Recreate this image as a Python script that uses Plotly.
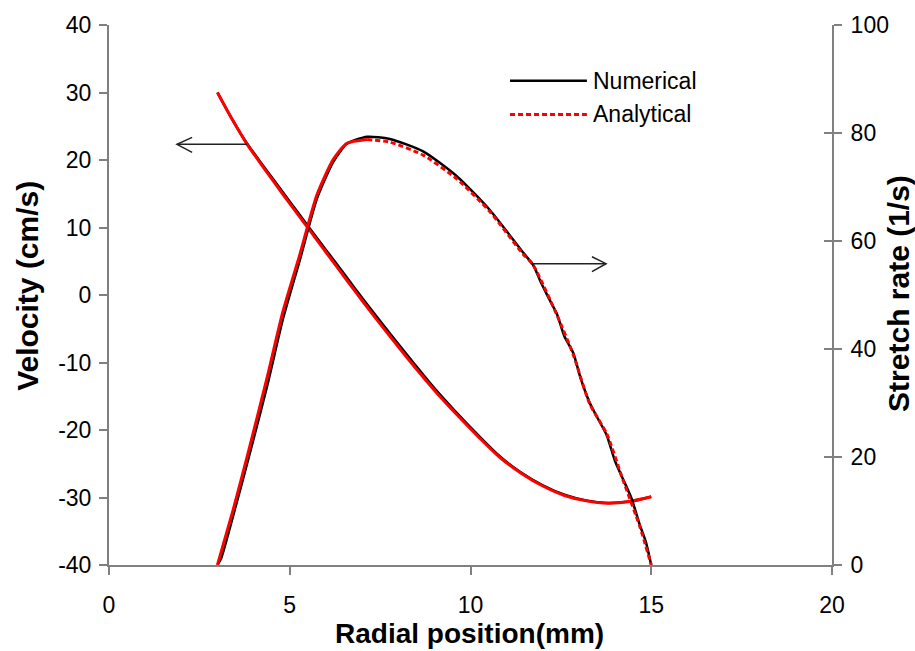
import plotly.graph_objects as go

# Radial velocity (cm/s) vs radial position (mm)
r_vel = [3.0, 3.4, 3.8, 4.3, 4.8, 5.3, 5.8, 6.3, 6.8, 7.3, 7.8, 8.4, 9.0, 9.6,
         10.2, 10.8, 11.4, 12.0, 12.6, 13.2, 13.8, 14.4, 15.0]
vel_analytical = [30.0, 26.1, 22.5, 18.7, 15.0, 11.4, 7.8, 4.2, 0.6, -2.9, -6.3,
                  -10.3, -14.1, -17.6, -20.9, -24.0, -26.4, -28.3, -29.7, -30.5,
                  -30.85, -30.6, -29.9]
vel_numerical = [30.0, 26.1, 22.6, 18.9, 15.3, 11.7, 8.1, 4.6, 1.0, -2.5, -5.9,
                 -9.9, -13.8, -17.35, -20.7, -23.85, -26.3, -28.2, -29.6, -30.45,
                 -30.8, -30.6, -29.9]

# Stretch rate (1/s) vs radial position (mm)
r_str_ana = [3.0, 3.43, 3.9, 4.37, 4.81, 5.28, 5.75, 6.2, 6.58, 7.14, 7.77, 8.69,
             9.62, 10.54, 11.45, 11.73, 12.39, 12.84, 13.3, 13.77, 14.22, 14.69, 15.0]
str_analytical = [0.0, 10.1, 22.1, 34.6, 46.9, 57.5, 68.5, 75.1, 78.1, 78.8, 78.3,
                  75.9, 71.5, 65.4, 57.6, 55.6, 46.3, 39.0, 29.8, 24.3, 15.7, 7.0, 0.0]
peak_index = 9

r_str_num = [3.0, 3.1, 3.43, 3.9, 4.37, 4.81, 5.28, 5.75, 6.2, 6.58, 7.14, 7.77,
             8.69, 9.62, 10.54, 11.45, 11.73, 11.95, 12.15, 12.39, 12.6, 12.84,
             13.05, 13.3, 13.5, 13.77, 14.0, 14.22, 14.45, 14.69, 14.85, 15.0]
str_numerical = [0.0, 1.2, 9.0, 20.8, 33.0, 45.5, 56.5, 67.8, 74.6, 78.0, 79.3,
                 78.9, 76.6, 72.0, 65.7, 57.9, 55.6, 52.3, 49.6, 46.5, 42.3, 39.3,
                 34.5, 30.0, 27.4, 24.0, 19.2, 15.9, 12.4, 7.3, 4.3, 0.0]

x_ticks = [0, 5, 10, 15, 20]
vel_ticks = [-40, -30, -20, -10, 0, 10, 20, 30, 40]
str_ticks = [0, 20, 40, 60, 80, 100]

FONT = "Arial, 'Liberation Sans', sans-serif"
AXIS_GREY = "#808080"

fig = go.Figure()

fig.add_trace(go.Scatter(x=r_vel, y=vel_numerical, mode="lines",
                         line=dict(color="black", width=2.5, shape="spline", smoothing=0.8)))
fig.add_trace(go.Scatter(x=r_str_num, y=str_numerical, mode="lines", yaxis="y2",
                         line=dict(color="black", width=2.5, shape="spline", smoothing=0.6)))

fig.add_trace(go.Scatter(x=r_vel, y=vel_analytical, mode="lines",
                         line=dict(color="#ff0000", width=3, shape="spline", smoothing=0.8)))
fig.add_trace(go.Scatter(x=r_str_ana[:peak_index + 1], y=str_analytical[:peak_index + 1],
                         mode="lines", yaxis="y2",
                         line=dict(color="#ff0000", width=3, shape="spline", smoothing=0.6)))
fig.add_trace(go.Scatter(x=r_str_ana[peak_index:], y=str_analytical[peak_index:],
                         mode="lines", yaxis="y2",
                         line=dict(color="#ff0000", width=3, dash="5px,3px",
                                   shape="spline", smoothing=0.6)))
# carrier for the inner tick marks of the right axis
fig.add_trace(go.Scatter(x=[None], y=[None], yaxis="y3", showlegend=False))

axis_common = dict(showline=True, linecolor=AXIS_GREY, linewidth=2, ticks="outside",
                   ticklen=8, tickwidth=2, tickcolor=AXIS_GREY, showgrid=False,
                   zeroline=False, tickfont=dict(family=FONT, size=23, color="black"))

fig.update_layout(
    width=915, height=651,
    margin=dict(l=109, r=83, t=22, b=86),
    plot_bgcolor="white", paper_bgcolor="white",
    showlegend=False,
    xaxis=dict(range=[0, 20], tickvals=x_ticks, ticktext=[str(v) for v in x_ticks],
               ticklabelstandoff=10, **axis_common),
    yaxis=dict(range=[-40, 40], tickvals=vel_ticks, ticktext=[str(v) for v in vel_ticks],
               ticklabelstandoff=3, **axis_common),
    yaxis2=dict(range=[0, 100], tickvals=str_ticks, ticktext=[str(v) for v in str_ticks],
                overlaying="y", side="right", anchor="x", ticklabelstandoff=4, **axis_common),
    yaxis3=dict(range=[0, 100], tickvals=str_ticks, overlaying="y", side="right",
                anchor="x", showline=False, ticks="inside", ticklen=8, tickwidth=2,
                tickcolor=AXIS_GREY, showticklabels=False, showgrid=False, zeroline=False),
)

# direction arrows pointing to each curve's axis
arrow_line = dict(color="#222222", width=1.5)
shapes = [
    dict(type="line", xref="x", yref="y", x0=3.82, y0=22.32, x1=1.88, y1=22.32, line=arrow_line),
    dict(type="path", xref="x", yref="y", path="M 2.30,23.35 L 1.88,22.32 L 2.30,21.14",
         line=arrow_line),
    dict(type="line", xref="x", yref="y", x0=11.67, y0=4.64, x1=13.75, y1=4.64, line=arrow_line),
    dict(type="path", xref="x", yref="y", path="M 13.36,5.67 L 13.75,4.64 L 13.36,3.46",
         line=arrow_line),
    # legend samples
    dict(type="line", xref="paper", yref="paper", x0=0.5546, x1=0.661, y0=0.8969, y1=0.8969,
         line=dict(color="black", width=2.5)),
    dict(type="line", xref="paper", yref="paper", x0=0.5546, x1=0.661, y0=0.8343, y1=0.8343,
         line=dict(color="#ff0000", width=3, dash="5px,3px")),
]
fig.update_layout(shapes=shapes)

annotations = [
    dict(text="Numerical", xref="paper", yref="paper", x=0.666, y=0.8969,
         xanchor="left", yanchor="middle", showarrow=False,
         font=dict(family=FONT, size=23, color="black")),
    dict(text="Analytical", xref="paper", yref="paper", x=0.666, y=0.8343,
         xanchor="left", yanchor="middle", showarrow=False,
         font=dict(family=FONT, size=23, color="black")),
    dict(text="<b>Velocity (cm/s)</b>", xref="paper", yref="paper", x=-0.112, y=0.517,
         textangle=-90, xanchor="center", yanchor="middle", showarrow=False,
         font=dict(family=FONT, size=30, color="black")),
    dict(text="<b>Stretch rate (1/s)</b>", xref="paper", yref="paper", x=1.092, y=0.503,
         textangle=-90, xanchor="center", yanchor="middle", showarrow=False,
         font=dict(family=FONT, size=30, color="black")),
    dict(text="<b>Radial position(mm)</b>", xref="paper", yref="paper", x=0.4993, y=-0.126,
         xanchor="center", yanchor="middle", showarrow=False,
         font=dict(family=FONT, size=28, color="black")),
]
fig.update_layout(annotations=annotations)

fig.write_html("out.html")
